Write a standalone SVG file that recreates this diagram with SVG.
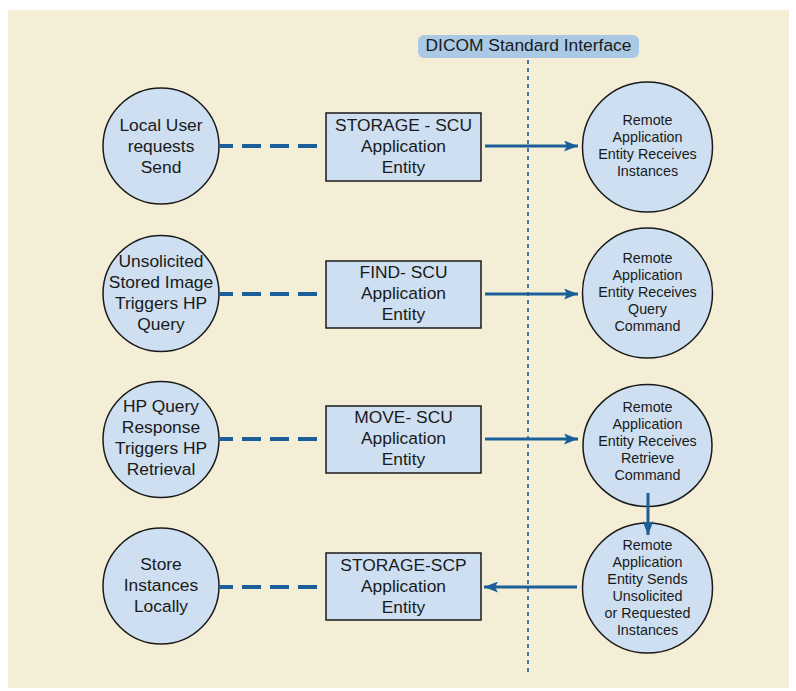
<svg xmlns="http://www.w3.org/2000/svg" width="796" height="691" viewBox="0 0 796 691">
<style>
.node{fill:#cddff0;stroke:#1a1a1a;stroke-width:1.5}
.t{font-family:"Liberation Sans",Arial,sans-serif;fill:#1a1a1a;text-anchor:middle}
.l{font-size:17.4px}
.b{font-size:17.4px}
.r{font-size:14.3px}
.dash{stroke:#1a5e9a;stroke-width:4;stroke-dasharray:19 9;stroke-dashoffset:5;fill:none}
.arr{stroke:#1a5e9a;stroke-width:3;fill:none;marker-end:url(#ah)}
</style>
<defs>
<marker id="ah" markerUnits="userSpaceOnUse" markerWidth="14" markerHeight="11" refX="14" refY="5.5" orient="auto">
<path d="M0,0 L14,5.5 L0,11 L3,5.5 Z" fill="#1a5e9a"/>
</marker>
</defs>
<rect x="0" y="0" width="796" height="691" fill="#ffffff"/>
<rect x="8" y="10" width="781" height="678" fill="#f5eed6"/>

<g id="interface">
<rect x="418" y="35" width="221" height="23" rx="6" fill="#a9c9e5"/>
<text class="t" x="528.5" y="51" style="font-size:17.4px">DICOM Standard Interface</text>
<line x1="528" y1="60" x2="528" y2="673" stroke="#1a5e9a" stroke-width="1.6" stroke-dasharray="4 4"/>
</g>

<g id="local1">
<circle class="node" cx="161" cy="146" r="58"/>
<text class="t l" x="161" y="131">Local User</text>
<text class="t l" x="161" y="152">requests</text>
<text class="t l" x="161" y="173">Send</text>
</g>
<g id="local2">
<circle class="node" cx="161" cy="293.5" r="58"/>
<text class="t l" x="161" y="267">Unsolicited</text>
<text class="t l" x="161" y="288">Stored Image</text>
<text class="t l" x="161" y="309">Triggers HP</text>
<text class="t l" x="161" y="330">Query</text>
</g>
<g id="local3">
<circle class="node" cx="161" cy="439.5" r="58"/>
<text class="t l" x="161" y="412">HP Query</text>
<text class="t l" x="161" y="433">Response</text>
<text class="t l" x="161" y="454">Triggers HP</text>
<text class="t l" x="161" y="475">Retrieval</text>
</g>
<g id="local4">
<circle class="node" cx="161" cy="586" r="58"/>
<text class="t l" x="161" y="570">Store</text>
<text class="t l" x="161" y="591">Instances</text>
<text class="t l" x="161" y="612">Locally</text>
</g>

<g id="ae1">
<rect class="node" x="326" y="113" width="155" height="68"/>
<text class="t b" x="403.5" y="131">STORAGE - SCU</text>
<text class="t b" x="403.5" y="152">Application</text>
<text class="t b" x="403.5" y="173">Entity</text>
</g>
<g id="ae2">
<rect class="node" x="326" y="261" width="155" height="67"/>
<text class="t b" x="403.5" y="278">FIND- SCU</text>
<text class="t b" x="403.5" y="299">Application</text>
<text class="t b" x="403.5" y="320">Entity</text>
</g>
<g id="ae3">
<rect class="node" x="326" y="406" width="155" height="67"/>
<text class="t b" x="403.5" y="423">MOVE- SCU</text>
<text class="t b" x="403.5" y="444">Application</text>
<text class="t b" x="403.5" y="465">Entity</text>
</g>
<g id="ae4">
<rect class="node" x="326" y="553" width="155" height="67"/>
<text class="t b" x="403.5" y="571">STORAGE-SCP</text>
<text class="t b" x="403.5" y="592">Application</text>
<text class="t b" x="403.5" y="613">Entity</text>
</g>

<g id="remote1">
<circle class="node" cx="647.5" cy="147" r="65"/>
<text class="t r" x="647.5" y="125">Remote</text>
<text class="t r" x="647.5" y="142">Application</text>
<text class="t r" x="647.5" y="159">Entity Receives</text>
<text class="t r" x="647.5" y="176">Instances</text>
</g>
<g id="remote2">
<circle class="node" cx="647.5" cy="293" r="65"/>
<text class="t r" x="647.5" y="263">Remote</text>
<text class="t r" x="647.5" y="280">Application</text>
<text class="t r" x="647.5" y="297">Entity Receives</text>
<text class="t r" x="647.5" y="314">Query</text>
<text class="t r" x="647.5" y="331">Command</text>
</g>
<g id="remote3">
<ellipse class="node" cx="647.5" cy="445.5" rx="64.5" ry="61"/>
<text class="t r" x="647.5" y="412">Remote</text>
<text class="t r" x="647.5" y="429">Application</text>
<text class="t r" x="647.5" y="446">Entity Receives</text>
<text class="t r" x="647.5" y="463">Retrieve</text>
<text class="t r" x="647.5" y="480">Command</text>
</g>
<g id="remote4">
<circle class="node" cx="647.5" cy="588" r="65"/>
<text class="t r" x="647.5" y="550">Remote</text>
<text class="t r" x="647.5" y="567">Application</text>
<text class="t r" x="647.5" y="584">Entity Sends</text>
<text class="t r" x="647.5" y="601">Unsolicited</text>
<text class="t r" x="647.5" y="618">or Requested</text>
<text class="t r" x="647.5" y="635">Instances</text>
</g>

<g id="connectors">
<line class="dash" x1="219" y1="146" x2="320" y2="146"/>
<line class="dash" x1="219" y1="294" x2="320" y2="294"/>
<line class="dash" x1="219" y1="439" x2="320" y2="439"/>
<line class="dash" x1="219" y1="587" x2="320" y2="587"/>
<line class="arr" x1="485" y1="146" x2="578" y2="146"/>
<line class="arr" x1="485" y1="294" x2="578" y2="294"/>
<line class="arr" x1="485" y1="439" x2="578" y2="439"/>
<line class="arr" x1="648" y1="493" x2="648" y2="535"/>
<line class="arr" x1="577" y1="587" x2="484" y2="587"/>
</g>
</svg>
